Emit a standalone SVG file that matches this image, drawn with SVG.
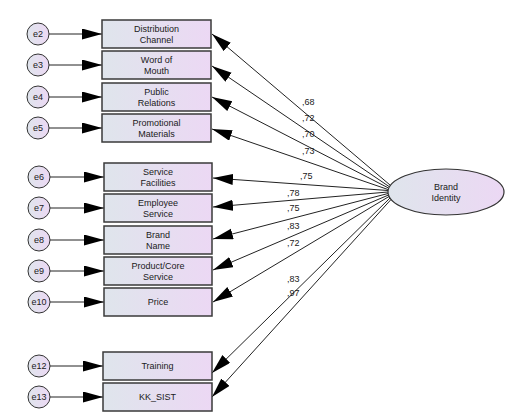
<svg xmlns="http://www.w3.org/2000/svg" width="529" height="417" viewBox="0 0 529 417">
<defs>
<linearGradient id="g" x1="0" y1="0" x2="1" y2="0">
<stop offset="0" stop-color="#dfe5ec"/>
<stop offset="1" stop-color="#ecd8f4"/>
</linearGradient>
<marker id="ah" markerUnits="userSpaceOnUse" markerWidth="22" markerHeight="12" refX="20" refY="5.5" orient="auto">
<path d="M0,0 L20,5.5 L0,11 z" fill="#000"/>
</marker>
</defs>
<style>
.box{fill:url(#g);stroke:#3a3a3a;stroke-width:1.5}
.err{fill:url(#g);stroke:#333;stroke-width:1}
.lat{fill:url(#g);stroke:#333;stroke-width:1.2}
text{font-family:"Liberation Sans",Arial,sans-serif;font-size:9px;fill:#1a1a1a;text-anchor:middle}
.lbl{text-anchor:start}
.c line{stroke:#222;stroke-width:1;marker-end:url(#ah)}
</style>
<rect width="529" height="417" fill="#fff"/>

<g id="connectors" class="c">
<line x1="49" y1="34" x2="102" y2="34"/>
<line x1="49" y1="65" x2="102" y2="65"/>
<line x1="49" y1="97" x2="102" y2="97"/>
<line x1="49" y1="128" x2="102" y2="128"/>
<line x1="50" y1="177" x2="104" y2="177"/>
<line x1="50" y1="208" x2="104" y2="208"/>
<line x1="50" y1="240" x2="104" y2="240"/>
<line x1="50" y1="271" x2="104" y2="271"/>
<line x1="50" y1="302" x2="104" y2="302"/>
<line x1="50" y1="366" x2="103" y2="366"/>
<line x1="50" y1="397" x2="103" y2="397"/>
<line x1="390" y1="185" x2="212" y2="34"/>
<line x1="389" y1="186.5" x2="212" y2="66"/>
<line x1="388.5" y1="188" x2="212" y2="97"/>
<line x1="388" y1="189.5" x2="212" y2="129"/>
<line x1="388" y1="190.5" x2="213" y2="178"/>
<line x1="388" y1="192" x2="213" y2="207"/>
<line x1="388" y1="193.5" x2="213" y2="239"/>
<line x1="388.5" y1="195" x2="213" y2="270"/>
<line x1="389" y1="196.5" x2="213" y2="302"/>
<line x1="390" y1="198" x2="212" y2="373"/>
<line x1="391" y1="199.5" x2="212" y2="397"/>
</g>

<g id="labels">
<text class="lbl" x="302" y="105">,68</text>
<text class="lbl" x="302" y="121">,72</text>
<text class="lbl" x="302" y="137">,70</text>
<text class="lbl" x="302" y="154">,73</text>
<text class="lbl" x="300" y="179">,75</text>
<text class="lbl" x="287" y="196">,78</text>
<text class="lbl" x="287" y="211">,75</text>
<text class="lbl" x="287" y="229">,83</text>
<text class="lbl" x="287" y="246">,72</text>
<text class="lbl" x="287" y="282">,83</text>
<text class="lbl" x="287" y="296">,97</text>
</g>

<g id="e2"><circle class="err" cx="38" cy="34" r="11"/><text x="38" y="37">e2</text></g>
<g id="e3"><circle class="err" cx="38" cy="65" r="11"/><text x="38" y="68">e3</text></g>
<g id="e4"><circle class="err" cx="38" cy="97" r="11"/><text x="38" y="100">e4</text></g>
<g id="e5"><circle class="err" cx="38" cy="128" r="11"/><text x="38" y="131">e5</text></g>
<g id="e6"><circle class="err" cx="39" cy="177" r="11"/><text x="39" y="180">e6</text></g>
<g id="e7"><circle class="err" cx="39" cy="208" r="11"/><text x="39" y="211">e7</text></g>
<g id="e8"><circle class="err" cx="39" cy="240" r="11"/><text x="39" y="243">e8</text></g>
<g id="e9"><circle class="err" cx="39" cy="271" r="11"/><text x="39" y="274">e9</text></g>
<g id="e10"><circle class="err" cx="39" cy="302" r="11"/><text x="39" y="305">e10</text></g>
<g id="e12"><circle class="err" cx="39" cy="366" r="11"/><text x="39" y="369">e12</text></g>
<g id="e13"><circle class="err" cx="39" cy="397" r="11"/><text x="39" y="400">e13</text></g>

<g id="distribution-channel"><rect class="box" x="102" y="20" width="109" height="28"/><text x="156.5" y="31.5">Distribution</text><text x="156.5" y="42.5">Channel</text></g>
<g id="word-of-mouth"><rect class="box" x="102" y="51" width="109" height="28"/><text x="156.5" y="62.5">Word of</text><text x="156.5" y="73.5">Mouth</text></g>
<g id="public-relations"><rect class="box" x="102" y="83" width="109" height="28"/><text x="156.5" y="94.5">Public</text><text x="156.5" y="105.5">Relations</text></g>
<g id="promotional-materials"><rect class="box" x="102" y="114" width="109" height="28"/><text x="156.5" y="125.5">Promotional</text><text x="156.5" y="136.5">Materials</text></g>
<g id="service-facilities"><rect class="box" x="104" y="163" width="108" height="28"/><text x="158" y="174.5">Service</text><text x="158" y="185.5">Facilities</text></g>
<g id="employee-service"><rect class="box" x="104" y="194" width="108" height="28"/><text x="158" y="205.5">Employee</text><text x="158" y="216.5">Service</text></g>
<g id="brand-name"><rect class="box" x="104" y="226" width="108" height="28"/><text x="158" y="237.5">Brand</text><text x="158" y="248.5">Name</text></g>
<g id="product-core-service"><rect class="box" x="104" y="257" width="108" height="28"/><text x="158" y="268.5">Product/Core</text><text x="158" y="279.5">Service</text></g>
<g id="price"><rect class="box" x="104" y="288" width="108" height="28"/><text x="158" y="305">Price</text></g>
<g id="training"><rect class="box" x="103" y="352" width="109" height="28"/><text x="157.5" y="369">Training</text></g>
<g id="kk-sist"><rect class="box" x="103" y="383" width="109" height="28"/><text x="157.5" y="400">KK_SIST</text></g>

<g id="brand-identity"><ellipse class="lat" cx="446" cy="192" rx="58" ry="23"/><text x="446" y="190">Brand</text><text x="446" y="201">Identity</text></g>
</svg>
